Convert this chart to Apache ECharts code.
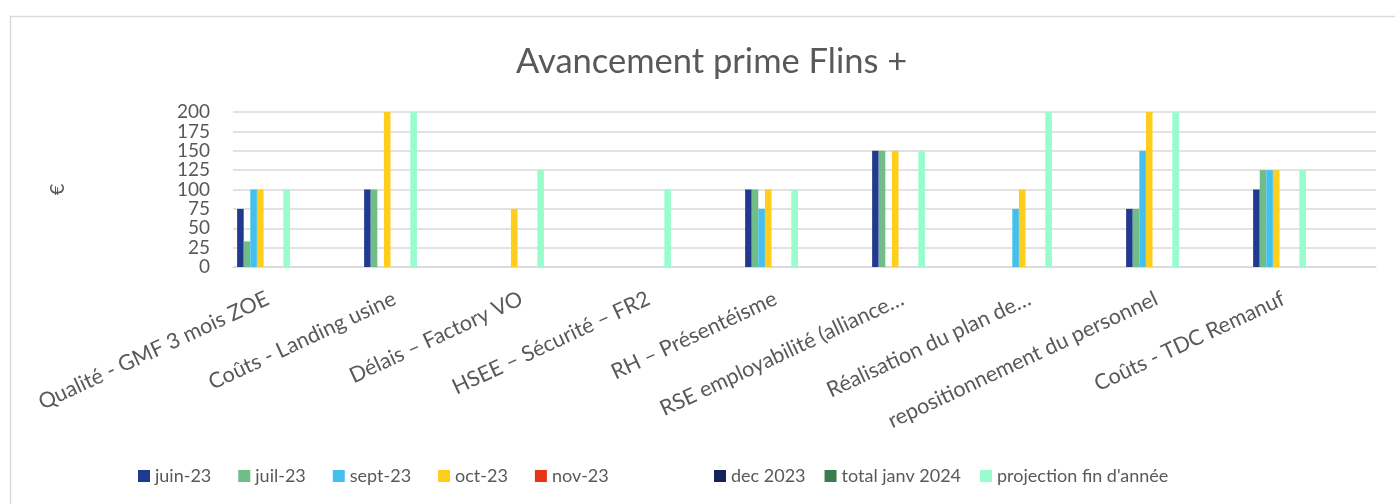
<!DOCTYPE html>
<html>
<head>
<meta charset="utf-8">
<script src="https://cdn.jsdelivr.net/npm/echarts@6/dist/echarts.min.js"></script>
<style>
  html, body { margin: 0; padding: 0; background: #fff; }
  #container { width: 1395px; height: 504px; }
</style>
</head>
<body>
<div id="container"></div>
<script>
var dom = document.getElementById('container');
var myChart = echarts.init(dom, null, { renderer: 'canvas' });

const categories = [
  'Qualité - GMF 3 mois ZOE',
  'Coûts - Landing usine',
  'Délais – Factory VO',
  'HSEE – Sécurité – FR2',
  'RH – Présentéisme',
  'RSE employabilité (alliance…',
  'Réalisation du plan de…',
  'repositionnement du personnel',
  'Coûts - TDC Remanuf'
];

const seriesNames = ['juin-23', 'juil-23', 'sept-23', 'oct-23', 'nov-23', 'dec 2023', 'total janv 2024', "projection fin d'année"];

const juin23      = [75, 100, 0, 0, 100, 150, 0, 75, 100];
const juil23      = [33, 100, 0, 0, 100, 150, 0, 75, 125];
const sept23      = [100, 0, 0, 0, 75, 0, 75, 150, 125];
const oct23       = [100, 200, 75, 0, 100, 150, 100, 200, 125];
const nov23       = [0, 0, 0, 0, 0, 0, 0, 0, 0];
const dec2023     = [0, 0, 0, 0, 0, 0, 0, 0, 0];
const totalJanv24 = [0, 0, 0, 0, 0, 0, 0, 0, 0];
const projection  = [100, 200, 125, 100, 100, 150, 200, 200, 125];

const yTicks = { min: 0, max: 200, interval: 25 };

const colors = ['#21398f', '#70bd88', '#43c0ef', '#ffcd1c', '#e53517', '#14245a', '#397d4d', '#99fccc'];
const values = [juin23, juil23, sept23, oct23, nov23, dec2023, totalJanv24, projection];

// the source workbook keeps empty columns after the visible ones, so the
// groups sit at the left of each category
const emptySlots = 10;

const fontFamily = 'Lato, "Open Sans", sans-serif';
const textColor = '#595959';

let series = values.map((v, i) => ({
  name: seriesNames[i],
  type: 'bar',
  data: v,
  barGap: '0%',
  barCategoryGap: '6.5%',
  itemStyle: { color: colors[i] }
}));
for (let k = 0; k < emptySlots; k++) {
  series.push({ name: 'vide' + k, type: 'bar', data: [], barGap: '0%', barCategoryGap: '6.5%', silent: true });
}

const legendBase = {
  bottom: 14,
  icon: 'rect',
  itemWidth: 12,
  itemHeight: 12,
  textStyle: { fontFamily: fontFamily, fontSize: 18, color: textColor }
};

var option = {
  animation: false,
  textStyle: { fontFamily: fontFamily },
  title: {
    text: 'Avancement prime Flins +',
    left: 511,
    top: 39,
    textStyle: { fontFamily: fontFamily, fontSize: 34.5, fontWeight: 'normal', color: textColor }
  },
  graphic: [{
    type: 'rect',
    left: 8, top: 14,
    shape: { width: 1400, height: 500 },
    style: { fill: 'none', stroke: '#d9d9d9', lineWidth: 1.5 },
    silent: true
  }],
  legend: [
    Object.assign({}, legendBase, { data: seriesNames.slice(0, 5), left: 133, itemGap: 27 }),
    Object.assign({}, legendBase, { data: seriesNames.slice(5), left: 709, itemGap: 19 })
  ],
  grid: {
    left: 233,
    right: 19,
    top: 112,
    bottom: 237,
    containLabel: false,
    outerBoundsMode: 'none'
  },
  xAxis: {
    type: 'category',
    data: categories,
    axisLine: { lineStyle: { color: '#d9d9d9', width: 1.5 } },
    axisTick: { show: false },
    axisLabel: {
      interval: 0,
      rotate: 25,
      margin: 17,
      padding: [0, 32, 0, 0],
      fontFamily: fontFamily,
      fontSize: 21.5,
      color: textColor
    }
  },
  yAxis: {
    type: 'value',
    min: yTicks.min,
    max: yTicks.max,
    interval: yTicks.interval,
    name: '€',
    nameLocation: 'middle',
    nameRotate: 90,
    nameGap: 165,
    nameTextStyle: { fontFamily: fontFamily, fontSize: 20, color: textColor },
    axisLine: { show: false },
    axisTick: { show: false },
    splitLine: { lineStyle: { color: '#d9d9d9', width: 1.5 } },
    axisLabel: {
      margin: 23,
      fontFamily: fontFamily,
      fontSize: 19,
      color: textColor
    }
  },
  series: series
};

myChart.setOption(option);
window.addEventListener('resize', myChart.resize);
</script>
</body>
</html>
